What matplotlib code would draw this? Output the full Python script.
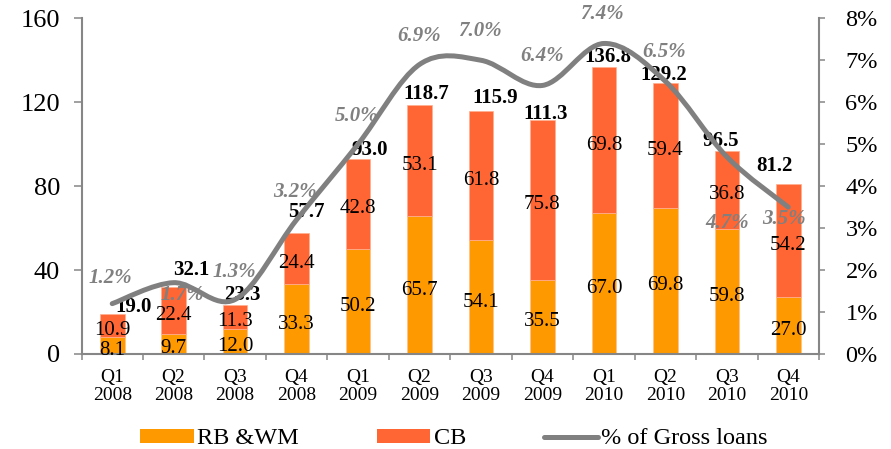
import matplotlib
matplotlib.use("Agg")
import matplotlib.pyplot as plt
import numpy as np
from matplotlib.path import Path
from matplotlib.patches import PathPatch, Patch
from matplotlib.lines import Line2D

plt.rcParams['font.family'] = ['Liberation Serif', 'DejaVu Serif']

# ---- data ----
quarters = ['Q1\n2008', 'Q2\n2008', 'Q3\n2008', 'Q4\n2008',
            'Q1\n2009', 'Q2\n2009', 'Q3\n2009', 'Q4\n2009',
            'Q1\n2010', 'Q2\n2010', 'Q3\n2010', 'Q4\n2010']
rbwm = [8.1, 9.7, 12.0, 33.3, 50.2, 65.7, 54.1, 35.5, 67.0, 69.8, 59.8, 27.0]
cb = [10.9, 22.4, 11.3, 24.4, 42.8, 53.1, 61.8, 75.8, 69.8, 59.4, 36.8, 54.2]
totals = [19.0, 32.1, 23.3, 57.7, 93.0, 118.7, 115.9, 111.3, 136.8, 129.2, 96.5, 81.2]
pct_gross = [1.2, 1.7, 1.3, 3.2, 5.0, 6.9, 7.0, 6.4, 7.4, 6.5, 4.7, 3.5]
left_ticks = [0, 40, 80, 120, 160]
right_ticks = [0, 1, 2, 3, 4, 5, 6, 7, 8]

# label offsets in pixels (dx, dy up)
total_offsets = [(21, 7), (17.5, 16.5), (7.5, 10.5), (9.5, 21), (12, 9), (7, 11),
                 (14.5, 13), (3.5, 6.5), (4, 9.5), (-2, 8), (-6.5, 10.5), (-14, 17.5)]
pct_offsets = [(-1.5, 25.5), (9, -12), (-1, 27.5), (-2, 28), (-1.5, 28), (0, 28.5),
               (-1.5, 29), (0, 29), (-1.5, 29.5), (-1.5, 29), (0, -66), (-4, -12)]

C_RB = '#FF9900'
C_CB = '#FF6633'
C_LINE = '#808080'
C_AX = '#868686'

W, H = 891, 449
fig = plt.figure(figsize=(W / 100, H / 100), dpi=100)
L, R, B, T = 81.5, 819, 354, 18.3
ax = fig.add_axes([L / W, (H - B) / H, (R - L) / W, (B - T) / H])

x = np.arange(len(quarters))
ax.bar(x, rbwm, width=0.4, color=C_RB, edgecolor='#FFC090', linewidth=0.5, zorder=2)
ax.bar(x, cb, width=0.4, bottom=rbwm, color=C_CB, edgecolor='#FFB090', linewidth=0.5, zorder=2)

ax.set_xlim(-0.5, len(quarters) - 0.5)
ax.set_ylim(0, 160)
ax.set_yticks(left_ticks)
ax.set_yticklabels([str(v) for v in left_ticks])
ax.set_xticks(np.arange(-0.5, len(quarters), 1))
ax.set_xticklabels([])
ax.set_xticks(x, minor=True)
ax.set_xticklabels(quarters, minor=True, fontsize=14, linespacing=1.05)
ax.tick_params(axis='x', which='major', length=4.5, width=1.1, color=C_AX)
ax.tick_params(axis='x', which='minor', length=0, pad=11)
ax.tick_params(axis='y', length=5.5, width=1.1, color=C_AX, labelsize=19, pad=10)

for s in ['top', 'right']:
    ax.spines[s].set_visible(False)
for s in ['left', 'bottom']:
    ax.spines[s].set_color(C_AX)
    ax.spines[s].set_linewidth(1.5)

ax2 = ax.twinx()
ax2.set_ylim(0, 8)
ax2.set_yticks(right_ticks)
ax2.set_yticklabels([f'{v}%' for v in right_ticks])
ax2.tick_params(axis='y', length=4, width=1.1, color=C_AX, labelsize=17.5, pad=15)
for s in ['top', 'left', 'bottom']:
    ax2.spines[s].set_visible(False)
ax2.spines['right'].set_color(C_AX)
ax2.spines['right'].set_linewidth(1.5)

# segment labels
for i in range(len(quarters)):
    ax.annotate(f'{rbwm[i]:.1f}', xy=(i, rbwm[i] / 2), xytext=(0, -5),
                textcoords='offset pixels', ha='center', va='center',
                fontsize=15, color='black', zorder=3)
    ax.annotate(f'{cb[i]:.1f}', xy=(i, rbwm[i] + cb[i] / 2), xytext=(0, -5),
                textcoords='offset pixels', ha='center', va='center',
                fontsize=15, color='black', zorder=3)
    dx, dy = total_offsets[i]
    ax.annotate(f'{totals[i]:.1f}', xy=(i, rbwm[i] + cb[i]), xytext=(dx, dy),
                textcoords='offset pixels', ha='center', va='center',
                fontsize=15, fontweight='bold', color='black', zorder=4,
                annotation_clip=False)
    dx, dy = pct_offsets[i]
    ax2.annotate(f'{pct_gross[i]:.1f}%', xy=(i, pct_gross[i]), xytext=(dx, dy),
                 textcoords='offset pixels', ha='center', va='center',
                 fontsize=15, fontweight='bold', style='italic', color=C_LINE,
                 zorder=4, annotation_clip=False)

# smoothed line (Bezier through the data points, Excel-style smoothing)
pts = np.column_stack([x, pct_gross]).astype(float)
n = len(pts)
verts = [pts[0]]
codes = [Path.MOVETO]
for i in range(n - 1):
    p_prev = pts[i - 1] if i > 0 else pts[i]
    p_next2 = pts[i + 2] if i + 2 < n else pts[i + 1]
    c1 = pts[i] + (pts[i + 1] - p_prev) / 6.0
    c2 = pts[i + 1] - (p_next2 - pts[i]) / 6.0
    verts += [c1, c2, pts[i + 1]]
    codes += [Path.CURVE4] * 3
path = Path(verts, codes)
ax2.add_patch(PathPatch(path, facecolor='none', edgecolor=C_LINE, lw=3.6,
                        capstyle='round', joinstyle='round', zorder=6, clip_on=False))

handles = [Patch(facecolor=C_RB), Patch(facecolor=C_CB),
           Line2D([], [], color=C_LINE, lw=3.6, solid_capstyle='round')]
fig.legend(handles, ['RB &WM', 'CB', '% of Gross loans'], loc='center',
           bbox_to_anchor=(454 / W, 10 / H), ncol=3, frameon=False, fontsize=17.5,
           handlelength=2.2, handleheight=0.5, handletextpad=0.15, columnspacing=3.2)

fig.savefig('out.png', dpi=100)
